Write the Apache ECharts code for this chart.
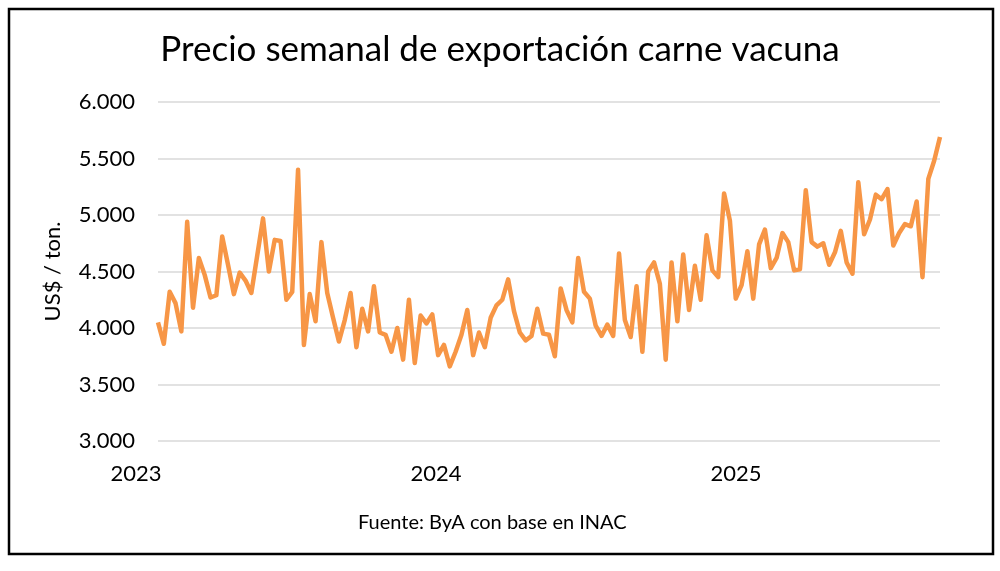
<!DOCTYPE html>
<html>
<head>
<meta charset="utf-8">
<script src="https://cdn.jsdelivr.net/npm/echarts@6/dist/echarts.min.js"></script>
<style>
  html, body { margin: 0; padding: 0; background: #fff; }
  #chart { width: 1000px; height: 571px; }
</style>
</head>
<body>
<div id="chart"></div>
<script>
// precio semanal (US$/ton), una semana por punto, desde fines de enero 2023
const firstWeek = '2023-01-27';
const prices = [
  4050, 3860, 4320, 4220, 3970, 4940, 4180, 4620, 4470, 4270,
  4290, 4810, 4560, 4300, 4490, 4420, 4310, 4640, 4970, 4500,
  4780, 4770, 4250, 4320, 5400, 3850, 4300, 4060, 4760, 4310,
  4090, 3880, 4070, 4310, 3830, 4170, 3970, 4370, 3960, 3940,
  3790, 4000, 3720, 4250, 3690, 4110, 4040, 4120, 3760, 3850,
  3660, 3790, 3940, 4160, 3760, 3960, 3830, 4090, 4200, 4250,
  4430, 4150, 3960, 3890, 3930, 4170, 3950, 3940, 3750, 4350,
  4160, 4050, 4620, 4320, 4260, 4020, 3930, 4030, 3930, 4660,
  4070, 3920, 4370, 3790, 4500, 4580, 4390, 3720, 4580, 4060,
  4650, 4160, 4550, 4250, 4820, 4510, 4450, 5190, 4950, 4260,
  4380, 4680, 4260, 4740, 4870, 4530, 4620, 4840, 4760, 4510,
  4520, 5220, 4760, 4720, 4750, 4560, 4670, 4860, 4580, 4480,
  5290, 4830, 4960, 5180, 5140, 5230, 4730, 4840, 4920, 4900,
  5120, 4450, 5320, 5480, 5690
];
const yTicks = [3000, 3500, 4000, 4500, 5000, 5500, 6000];
const years = [2023, 2024, 2025];

// fechas semanales para el eje
const weeks = [];
const d0 = new Date(firstWeek + 'T00:00:00Z');
for (let i = 0; i < prices.length; i++) {
  const d = new Date(d0.getTime() + i * 7 * 86400000);
  weeks.push(d.toISOString().slice(0, 10));
}

const FONT = 'Lato, "Open Sans", sans-serif';
const fmtMiles = v => String(v).replace(/\B(?=(\d{3})+(?!\d))/g, '.');

const chart = echarts.init(document.getElementById('chart'), null, { renderer: 'canvas' });

chart.setOption({
  animation: false,
  backgroundColor: '#fff',
  title: [
    {
      text: 'Precio semanal de exportación carne vacuna',
      left: 'center',
      top: 27,
      textStyle: { fontFamily: FONT, fontSize: 35, fontWeight: 'normal', color: '#000' }
    },
    {
      text: 'Fuente: ByA con base en INAC',
      left: 353,
      top: 508,
      textStyle: { fontFamily: FONT, fontSize: 20, fontWeight: 'normal', color: '#000' }
    }
  ],
  graphic: [{
    type: 'rect',
    shape: { x: 9, y: 9, width: 984, height: 545 },
    style: { fill: null, stroke: '#000', lineWidth: 2.5 }
  }],
  grid: [
    { left: 158, right: 60, top: 102, bottom: 130 },
    // solo para los rótulos de año
    { left: 136, right: 60, top: 102, bottom: 130 }
  ],
  xAxis: [
    {
      type: 'category',
      gridIndex: 0,
      data: weeks,
      boundaryGap: false,
      axisLine: { show: false },
      axisTick: { show: false },
      axisLabel: { show: false },
      splitLine: { show: false }
    },
    {
      type: 'value',
      gridIndex: 1,
      min: years[0],
      max: 2025.68,
      interval: 1,
      axisLine: { show: false },
      axisTick: { show: false },
      splitLine: { show: false },
      axisLabel: {
        showMaxLabel: false,
        margin: 22,
        fontFamily: FONT,
        fontSize: 22,
        color: '#000',
        formatter: v => (years.indexOf(v) >= 0 ? String(v) : '')
      }
    }
  ],
  yAxis: [
    {
      type: 'value',
      gridIndex: 0,
      min: yTicks[0],
      max: yTicks[yTicks.length - 1],
      interval: 500,
      name: 'US$ / ton.',
      nameLocation: 'middle',
      nameRotate: 90,
      nameGap: 94,
      nameTextStyle: { fontFamily: FONT, fontSize: 22, color: '#000' },
      axisLine: { show: false },
      axisTick: { show: false },
      axisLabel: {
        margin: 23,
        fontFamily: FONT,
        fontSize: 22,
        color: '#000',
        formatter: v => fmtMiles(v)
      },
      splitLine: { lineStyle: { color: '#d9d9d9', width: 1.5 } }
    },
    {
      type: 'value',
      gridIndex: 1,
      show: false,
      min: 0,
      max: 1
    }
  ],
  series: [
    {
      name: 'Precio',
      type: 'line',
      xAxisIndex: 0,
      yAxisIndex: 0,
      data: prices,
      showSymbol: false,
      lineStyle: { color: '#F79646', width: 4.5, join: 'round' },
      itemStyle: { color: '#F79646' }
    }
  ]
});
</script>
</body>
</html>
